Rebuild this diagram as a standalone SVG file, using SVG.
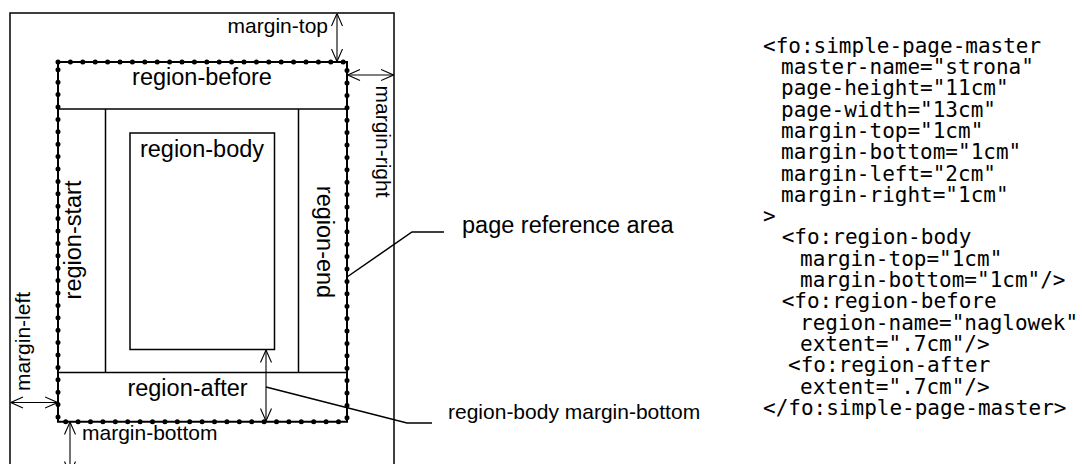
<svg xmlns="http://www.w3.org/2000/svg" width="1082" height="464" viewBox="0 0 1082 464">
<style>
.ln{fill:none;stroke:#000;stroke-width:1.5}
.ar{fill:none;stroke:#000;stroke-width:1.1}
.lbl{font-family:"Liberation Sans",Arial,sans-serif;font-size:23.5px;fill:#000}
.sm{font-family:"Liberation Sans",Arial,sans-serif;font-size:21px;fill:#000}
.code{font-family:"DejaVu Sans Mono",monospace;font-size:21px;fill:#000}
</style>
<defs>
<marker id="oa" viewBox="0 0 13 13" refX="13" refY="6.5" markerWidth="13" markerHeight="13" markerUnits="userSpaceOnUse" orient="auto-start-reverse">
<path d="M0.5,1 L13,6.5 L0.5,12" fill="none" stroke="#000" stroke-width="1.1"/>
</marker>
</defs>
<rect width="1082" height="464" fill="#fff"/>
<g id="page">
<rect class="ln" x="10" y="13" width="384" height="462"/>
</g>
<g id="page-reference-area">
<path d="M58,62 H347 V421.7 H58 Z" fill="none" stroke="#000" stroke-width="2"/>
<path d="M58,62 H347 V421.7 H58 Z" fill="none" stroke="#000" stroke-width="5" stroke-linecap="round" stroke-dasharray="0 12.4"/>
</g>
<g id="region-before">
<line class="ln" x1="58" y1="109" x2="347" y2="109"/>
<text class="lbl" x="202" y="85" text-anchor="middle">region-before</text>
</g>
<g id="region-start">
<line class="ln" x1="105.5" y1="109" x2="105.5" y2="372.5"/>
<text class="lbl" transform="translate(81,240) rotate(-90)" text-anchor="middle">region-start</text>
</g>
<g id="region-end">
<line class="ln" x1="298.5" y1="109" x2="298.5" y2="372.5"/>
<text class="lbl" transform="translate(317,242) rotate(90)" text-anchor="middle">region-end</text>
</g>
<g id="region-body">
<rect class="ln" x="130" y="133" width="144.5" height="216.5"/>
<text class="lbl" x="202" y="157" text-anchor="middle">region-body</text>
</g>
<g id="region-after">
<line class="ln" x1="58" y1="372.5" x2="347" y2="372.5"/>
<text class="lbl" x="187.5" y="396" text-anchor="middle">region-after</text>
</g>
<g id="connectors">
<line class="ar" x1="337" y1="13.5" x2="337" y2="61.5" marker-start="url(#oa)" marker-end="url(#oa)"/>
<line class="ar" x1="347.5" y1="75" x2="393.5" y2="75" marker-start="url(#oa)" marker-end="url(#oa)"/>
<line class="ar" x1="10.5" y1="402.5" x2="57.5" y2="402.5" marker-start="url(#oa)" marker-end="url(#oa)"/>
<line class="ar" x1="70" y1="422" x2="70" y2="474" marker-start="url(#oa)" marker-end="url(#oa)"/>
<line class="ar" x1="266" y1="350" x2="266" y2="421" marker-start="url(#oa)" marker-end="url(#oa)"/>
<polyline class="ln" points="347,277 412,232 444,232"/>
<polyline class="ln" points="266,387 407,423 432,423"/>
</g>
<g id="labels">
<text class="sm" x="328" y="33" text-anchor="end">margin-top</text>
<text class="sm" transform="translate(376,141.5) rotate(90)" text-anchor="middle">margin-right</text>
<text class="sm" transform="translate(29.5,341.5) rotate(-90)" text-anchor="middle">margin-left</text>
<text class="sm" x="82" y="440">margin-bottom</text>
<text class="lbl" x="462" y="232.5">page reference area</text>
<text class="sm" x="448" y="419">region-body margin-bottom</text>
</g>
<g id="code">
<text class="code" x="763" y="52.7">&lt;fo:simple-page-master</text>
<text class="code" x="781" y="74">master-name="strona"</text>
<text class="code" x="781" y="95.3">page-height="11cm"</text>
<text class="code" x="781" y="116.6">page-width="13cm"</text>
<text class="code" x="781" y="137.9">margin-top="1cm"</text>
<text class="code" x="781" y="159.2">margin-bottom="1cm"</text>
<text class="code" x="781" y="180.5">margin-left="2cm"</text>
<text class="code" x="781" y="201.8">margin-right="1cm"</text>
<text class="code" x="763" y="223.1">&gt;</text>
<text class="code" x="781.7" y="244.4">&lt;fo:region-body</text>
<text class="code" x="800" y="265.7">margin-top="1cm"</text>
<text class="code" x="800" y="287">margin-bottom="1cm"/&gt;</text>
<text class="code" x="781.7" y="308.3">&lt;fo:region-before</text>
<text class="code" x="800" y="329.6">region-name="naglowek"</text>
<text class="code" x="800" y="350.9">extent=".7cm"/&gt;</text>
<text class="code" x="788" y="372.2">&lt;fo:region-after</text>
<text class="code" x="800" y="393.5">extent=".7cm"/&gt;</text>
<text class="code" x="763" y="414.8">&lt;/fo:simple-page-master&gt;</text>
</g>
</svg>
